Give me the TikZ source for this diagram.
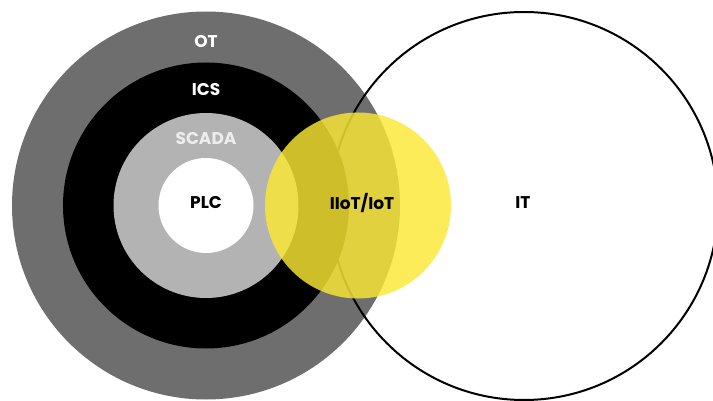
\documentclass[tikz,border=0pt]{standalone}
\usepackage{fontspec}
\setmainfont{Poppins}
\definecolor{otgray}{HTML}{6E6E6E}
\definecolor{scadagray}{HTML}{B3B3B3}
\definecolor{iotyellow}{RGB}{251,232,52}
\tikzset{
  ring/.style={circle, inner sep=0pt, minimum size=#1},
  lbl/.style={font=\fontsize{17}{17}\selectfont\bfseries},
}
\begin{document}
\begin{tikzpicture}[x=1pt,y=-1pt]
  \useasboundingbox (0,0) rectangle (713,401);
  % concentric OT / ICS / SCADA / PLC layers
  \node[ring=388pt, fill=otgray] (ot) at (206,205.5) {};
  \node[ring=286pt, fill=black] (ics) at (206,205.5) {};
  \node[ring=185pt, fill=scadagray] (scada) at (206,205.5) {};
  \node[ring=95pt, fill=white] (plc) at (206,205.5) {};
  % IT domain
  \node[ring=388pt, draw=black, line width=2pt] (it) at (524,206) {};
  % IIoT/IoT overlap
  \node[ring=186pt, fill=iotyellow, fill opacity=0.82] (iot) at (358,205.5) {};
  % labels
  \node[lbl, text=white] (otl) at (206,42) {OT};
  \node[lbl, text=white] (icsl) at (206,90) {ICS};
  \node[lbl, text=white!93!black] (scadal) at (206,139) {SCADA};
  \node[lbl] (plcl) at (206,203) {PLC};
  \node[lbl] (iotl) at (362,203) {IIoT/IoT};
  \node[lbl] (itl) at (523,203) {IT};
\end{tikzpicture}
\end{document}
